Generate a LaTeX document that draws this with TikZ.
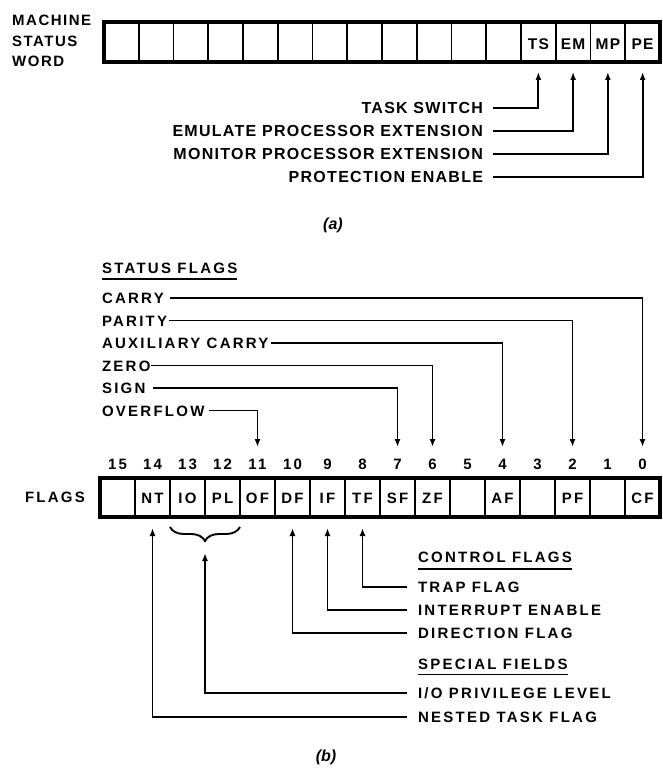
\documentclass[tikz,border=0pt]{standalone}
\usepackage{fontspec}
\setmainfont{Liberation Sans}
\newfontfamily\lfa{Liberation Sans}[LetterSpace=8]
\newfontfamily\lfm{Liberation Sans}[LetterSpace=10]
\newfontfamily\lfb{Liberation Sans}[LetterSpace=15]
\usetikzlibrary{arrows.meta,decorations.pathreplacing}
\begin{document}
\begin{tikzpicture}[x=1pt,y=-1pt,
  lbla/.style={font=\lfa\bfseries\fontsize{16}{19}\selectfont, inner sep=0pt, outer sep=0pt, text height=11.5pt, text depth=0pt},
  lblb/.style={font=\lfb\bfseries\fontsize{15}{18}\selectfont, inner sep=0pt, outer sep=0pt, text height=11pt, text depth=0pt},
  mcell/.style={draw, line width=1.8pt, minimum width=34.75pt, minimum height=40pt, inner sep=0pt, outer sep=0pt, font=\lfa\bfseries\fontsize{15.5}{18}\selectfont, text height=16pt, text depth=0pt},
  fcell/.style={draw, line width=1.8pt, minimum width=35pt, minimum height=39pt, inner sep=0pt, outer sep=0pt, font=\lfb\bfseries\fontsize{15}{18}\selectfont, text height=12pt, text depth=0pt},
  conn/.style={line width=1.9pt},
  arr/.style={conn, -{Latex[length=8pt,width=6pt]}},
  reg/.style={line width=3.5pt},
  capt/.style={font=\bfseries\itshape\fontsize{16}{18}\selectfont, inner sep=0pt}
]
\useasboundingbox (0,0) rectangle (662,770);

% ---------- (a) Machine status word ----------
\node[anchor=north west, inner sep=0pt, align=left, font=\lfm\bfseries\fontsize{15}{20.5}\selectfont] (mswl) at (12,15) {MACHINE\\STATUS\\WORD};
\foreach \k in {0,...,11} \node[mcell] (m\k) at ({104+34.75*(\k+0.5)},42) {};
\node[mcell] (m12) at ({104+34.75*12.5},42) {TS};
\node[mcell] (m13) at ({104+34.75*13.5},42) {EM};
\node[mcell] (m14) at ({104+34.75*14.5},42) {MP};
\node[mcell] (m15) at ({104+34.75*15.5},42) {PE};
\draw[reg] (m0.north west) rectangle (m15.south east);

\node[lbla, anchor=east] (tsl) at (483,108) {TASK SWITCH};
\node[lbla, anchor=east] (eml) at (483,131) {EMULATE PROCESSOR EXTENSION};
\node[lbla, anchor=east] (mpl) at (483,154) {MONITOR PROCESSOR EXTENSION};
\node[lbla, anchor=east] (pel) at (483,177) {PROTECTION ENABLE};
\draw[arr, shorten >=10pt] ([xshift=10pt]tsl.east) -| (m12.south);
\draw[arr, shorten >=10pt] ([xshift=10pt]eml.east) -| (m13.south);
\draw[arr, shorten >=10pt] ([xshift=10pt]mpl.east) -| (m14.south);
\draw[arr, shorten >=10pt] ([xshift=10pt]pel.east) -| (m15.south);

\node[capt] (capa) at (333,225) {(a)};

% ---------- (b) Flags ----------
\node[lblb, anchor=west] (sfh) at (102,268) {STATUS FLAGS};
\draw[conn] ([yshift=-5.5pt]sfh.south west) -- ([yshift=-5.5pt]sfh.south east);

\foreach \i in {0,...,15} \node[lblb] (n\i) at ({642.5-35*\i},464) {\i};

\node[lblb, anchor=west] (cyl) at (102,298) {CARRY};
\node[lblb, anchor=west] (pal) at (102,320.5) {PARITY};
\node[lblb, anchor=west] (acl) at (102,343) {AUXILIARY CARRY};
\node[lblb, anchor=west] (zel) at (102,365.5) {ZERO};
\node[lblb, anchor=west] (sgl) at (102,388) {SIGN};
\node[lblb, anchor=west] (ovl) at (102,410.5) {OVERFLOW};
\draw[arr, shorten >=11.5pt] ([xshift=6pt]cyl.east) -| (n0.north);
\draw[arr, shorten >=11.5pt] ([xshift=2pt]pal.east) -| (n2.north);
\draw[arr, shorten >=11.5pt] ([xshift=3pt]acl.east) -| (n4.north);
\draw[arr, shorten >=11.5pt] ([xshift=1pt]zel.east) -| (n6.north);
\draw[arr, shorten >=11.5pt] ([xshift=8pt]sgl.east) -| (n7.north);
\draw[arr, shorten >=11.5pt] ([xshift=5pt]ovl.east) -| (n11.north);

\node[lblb, anchor=west] (flagsl) at (25,497) {FLAGS};
\foreach \i/\t in {15/{},14/NT,13/IO,12/PL,11/OF,10/DF,9/IF,8/TF,7/SF,6/ZF,5/{},4/AF,3/{},2/PF,1/{},0/CF}
  \node[fcell] (f\i) at ({642.5-35*\i},497.5) {\t};
\draw[reg] (f15.north west) rectangle (f0.south east);

\draw[conn, decorate, decoration={brace, mirror, amplitude=14pt}]
  ([yshift=-10pt]f13.south west) -- ([yshift=-10pt]f12.south east);
\coordinate (brtip) at (205,541);

\node[lblb, anchor=west] (cfh) at (418,557) {CONTROL FLAGS};
\draw[conn] ([yshift=-6.5pt]cfh.south west) -- ([yshift=-6.5pt]cfh.south east);
\node[lblb, anchor=west] (tfl) at (418,587) {TRAP FLAG};
\node[lblb, anchor=west] (iel) at (418,610) {INTERRUPT ENABLE};
\node[lblb, anchor=west] (dfl) at (418,633) {DIRECTION FLAG};
\node[lblb, anchor=west] (sph) at (418,664) {SPECIAL FIELDS};
\draw[conn] ([yshift=-5pt]sph.south west) -- ([yshift=-5pt]sph.south east);
\node[lblb, anchor=west] (iol) at (418,693) {I/O PRIVILEGE LEVEL};
\node[lblb, anchor=west] (ntl) at (418,717) {NESTED TASK FLAG};

\draw[arr, shorten >=11pt] ([xshift=-11pt]tfl.west) -| (f8.south);
\draw[arr, shorten >=11pt] ([xshift=-11pt]iel.west) -| (f9.south);
\draw[arr, shorten >=11pt] ([xshift=-11pt]dfl.west) -| (f10.south);
\draw[arr, shorten >=12pt] ([xshift=-11pt]iol.west) -| (brtip);
\draw[arr, shorten >=11pt] ([xshift=-11pt]ntl.west) -| (f14.south);

\node[capt] (capb) at (326,757) {(b)};
\end{tikzpicture}
\end{document}
